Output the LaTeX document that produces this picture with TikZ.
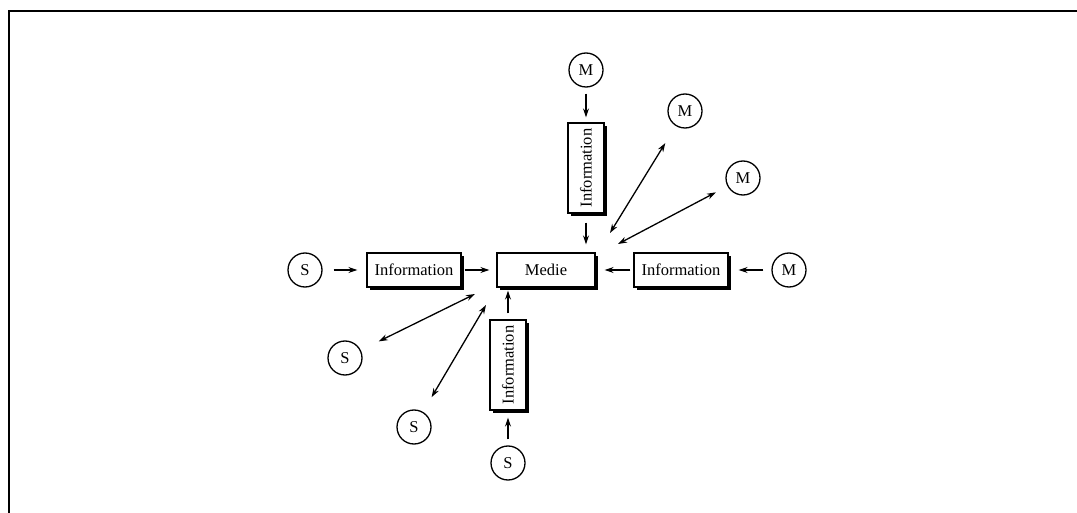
\documentclass[tikz,border=0pt]{standalone}
\usepackage{fontspec}
\setmainfont{Liberation Serif}
\usetikzlibrary{arrows.meta,shadows}
\begin{document}
\begin{tikzpicture}[x=1pt,y=-1pt,
  txt/.style={font=\fontsize{16.5}{19}\selectfont},
  box/.style={txt,draw,line width=1.3pt,fill=white,inner sep=0pt,
    drop shadow={shadow xshift=3pt,shadow yshift=-3pt,fill=black,opacity=1}},
  hbox/.style={box,minimum width=94pt,minimum height=34pt},
  vbox/.style={box,minimum width=36pt,minimum height=90pt},
  ent/.style={txt,draw,circle,line width=1.3pt,minimum size=34pt,inner sep=0pt},
  arr/.style={line width=1.3pt,-{Stealth[length=9pt,width=6pt]}},
  darr/.style={line width=1.3pt,{Stealth[length=9pt,width=6pt]}-{Stealth[length=9pt,width=6pt]}}]
\useasboundingbox (0,0) rectangle (1077,513);
\draw[line width=2pt] (9,513) -- (9,11) -- (1077,11);
% central
\node[hbox,minimum width=98pt] (medie) at (546,270) {Medie};
% left
\node[ent] (s1) at (305,270) {S};
\node[hbox] (il) at (414,270) {Information};
% right
\node[ent] (m1) at (789,270) {M};
\node[hbox] (ir) at (681,270) {Information};
% top
\node[ent] (m0) at (586,70) {M};
\node[vbox] (it) at (586,168) {\rotatebox{90}{Information}};
% bottom
\node[ent] (s0) at (508,463) {S};
\node[vbox] (ib) at (508,365) {\rotatebox{90}{Information}};
% diagonal partners
\node[ent] (m2) at (685,111) {M};
\node[ent] (m3) at (743,178) {M};
\node[ent] (s2) at (345,358) {S};
\node[ent] (s3) at (414,427) {S};
\coordinate (cm2) at (610,233);
\coordinate (cm3) at (618,244);
\coordinate (cs2) at (475,294);
\coordinate (cs3) at (486,305);
% straight arrows
\draw[arr,shorten <=11pt,shorten >=9pt] (s1) -- (il);
\draw[arr,shorten <=3pt,shorten >=7pt] (il) -- (medie);
\draw[arr,shorten <=8pt,shorten >=10pt] (m1) -- (ir);
\draw[arr,shorten <=3pt,shorten >=9pt] (ir.west) -- (ir.west -| medie.east);
\draw[arr,shorten <=6pt,shorten >=5pt] (m0) -- (it);
\draw[arr,shorten <=9pt,shorten >=8pt] (it.south) -- (it.south |- medie.north);
\draw[arr,shorten <=6pt,shorten >=7pt] (s0) -- (ib);
\draw[arr,shorten <=6pt,shorten >=3pt] (ib.north) -- (ib.north |- medie.south);
% double arrows
\draw[darr,shorten <=20pt] (m2) -- (cm2);
\draw[darr,shorten <=13pt] (m3) -- (cm3);
\draw[darr,shorten <=20pt] (s2) -- (cs2);
\draw[darr,shorten <=17pt] (s3) -- (cs3);
\end{tikzpicture}
\end{document}
